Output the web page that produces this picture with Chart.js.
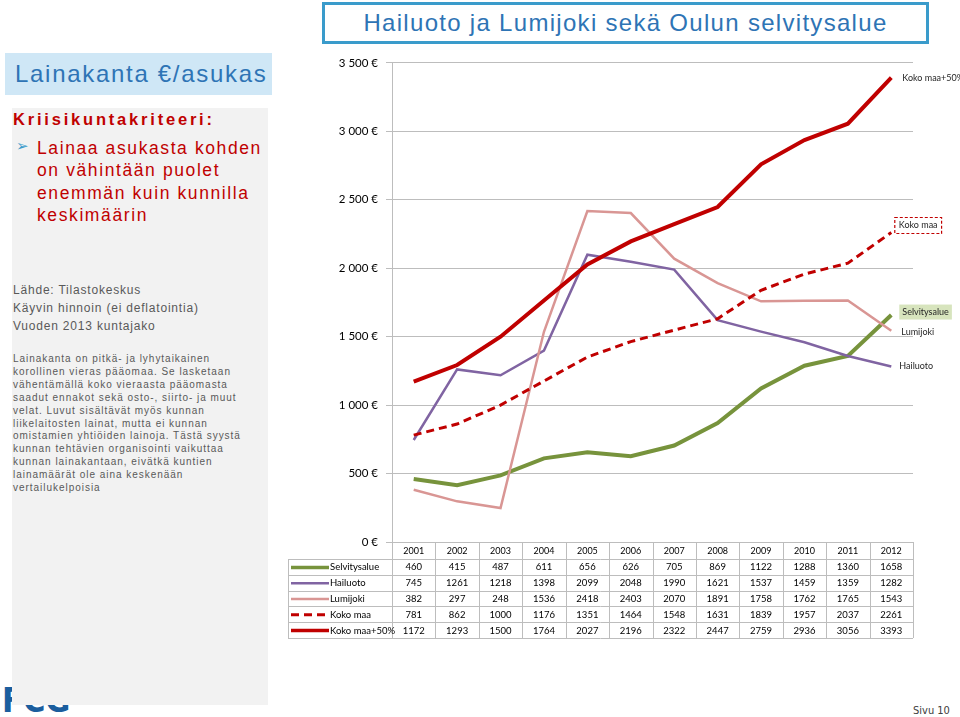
<!DOCTYPE html>
<html>
<head>
<meta charset="utf-8">
<script src="https://cdn.jsdelivr.net/npm/chart.js@4"></script>
<style>
  body { margin: 0; width: 960px; height: 717px; background: #fff; position: relative; overflow: hidden; font-family: "Liberation Sans", Arial, sans-serif; }
  .abs { position: absolute; }
  #title { left: 322px; top: 2px; width: 601px; height: 36px; border: 3px solid #3A9BCB; color: #2E74B5; font-size: 24px; letter-spacing: 1.3px; text-align: center; line-height: 36px; }
  #subTitle { left: 5px; top: 53px; width: 267px; height: 42px; background: #CFE7F6; color: #2E74B5; font-size: 24px; letter-spacing: 1.7px; line-height: 42px; padding-left: 10px; box-sizing: border-box; white-space: nowrap; }
  #logo { left: 2px; top: 680px; font-size: 34px; font-weight: bold; color: #1B5E9E; font-family: "DejaVu Sans Condensed", sans-serif; z-index: 0; }
  #panel { left: 12px; top: 108px; width: 256px; height: 597px; background: #F2F2F2; z-index: 1; }
  #krit { left: 13px; top: 110px; color: #C00000; font-weight: bold; font-size: 16.5px; letter-spacing: 2.8px; z-index: 2; }
  #bullet { left: 16px; top: 137px; color: #3A9BCB; font-size: 15px; z-index: 2; font-family: "DejaVu Sans", sans-serif; }
  #kritText { left: 37px; top: 137px; color: #C00000; font-size: 17.5px; letter-spacing: 1.6px; line-height: 22.4px; z-index: 2; white-space: nowrap; }
  #source { left: 13px; top: 281px; color: #595959; font-size: 12px; letter-spacing: 0.8px; line-height: 18px; z-index: 2; }
  #para { left: 13px; top: 353px; color: #595959; font-size: 10px; letter-spacing: 0.97px; line-height: 12.9px; z-index: 2; white-space: nowrap; }
  #page { left: 913px; top: 704px; color: #404040; font-size: 11px; font-family: "DejaVu Sans Condensed", sans-serif; }
  #chartCanvas { position: absolute; left: 285px; top: 48px; }
</style>
</head>
<body>
<div class="abs" id="title">Hailuoto ja Lumijoki sekä Oulun selvitysalue</div>
<div class="abs" id="subTitle">Lainakanta €/asukas</div>
<div class="abs" id="logo">FCG</div>
<div class="abs" id="panel"></div>
<div class="abs" id="krit">Kriisikuntakriteeri:</div>
<div class="abs" id="bullet">➢</div>
<div class="abs" id="kritText">Lainaa asukasta kohden<br>on vähintään puolet<br>enemmän kuin kunnilla<br>keskimäärin</div>
<div class="abs" id="source">Lähde: Tilastokeskus<br>Käyvin hinnoin (ei deflatointia)<br>Vuoden 2013 kuntajako</div>
<div class="abs" id="para">Lainakanta on pitkä- ja lyhytaikainen<br>korollinen vieras pääomaa. Se lasketaan<br>vähentämällä koko vieraasta pääomasta<br>saadut ennakot sekä osto-, siirto- ja muut<br>velat. Luvut sisältävät myös kunnan<br>liikelaitosten lainat, mutta ei kunnan<br>omistamien yhtiöiden lainoja. Tästä syystä<br>kunnan tehtävien organisointi vaikuttaa<br>kunnan lainakantaan, eivätkä kuntien<br>lainamäärät ole aina keskenään<br>vertailukelpoisia</div>
<div class="abs" id="page">Sivu 10</div>
<canvas id="chartCanvas" width="675" height="600"></canvas>

<script>
// Vuodet ja sarjat (€/asukas)
const years = ["2001","2002","2003","2004","2005","2006","2007","2008","2009","2010","2011","2012"];
const selvitysalue = [460, 415, 487, 611, 656, 626, 705, 869, 1122, 1288, 1360, 1658];
const hailuoto = [745, 1261, 1218, 1398, 2099, 2048, 1990, 1621, 1537, 1459, 1359, 1282];
const lumijoki = [382, 297, 248, 1536, 2418, 2403, 2070, 1891, 1758, 1762, 1765, 1543];
const kokoMaa = [781, 862, 1000, 1176, 1351, 1464, 1548, 1631, 1839, 1957, 2037, 2261];
const kokoMaa50 = [1172, 1293, 1500, 1764, 2027, 2196, 2322, 2447, 2759, 2936, 3056, 3393];
const yMax = 3500;
const yStep = 500;

const chartFont = "Lato, 'Open Sans', sans-serif";
const gridColor = "#BDBDBD";

// Sarjojen nimet loppupäähän
const endLabels = {
  id: "endLabels",
  afterDatasetsDraw(chart) {
    const ctx = chart.ctx;
    const xs = chart.scales.x, ys = chart.scales.y;
    const last = years.length - 1;
    const lx = xs.getPixelForValue(last);
    ctx.save();
    ctx.font = "9px " + chartFont;
    ctx.textBaseline = "middle";
    ctx.fillStyle = "#262626";

    // Koko maa+50%
    ctx.fillText("Koko maa+50%", lx + 11, ys.getPixelForValue(kokoMaa50[last]) + 1);

    // Koko maa (katkoviivalaatikko)
    let y = ys.getPixelForValue(kokoMaa[last]) - 7;
    let w = ctx.measureText("Koko maa").width + 8;
    ctx.strokeStyle = "#C00000";
    ctx.lineWidth = 1.2;
    ctx.setLineDash([3, 2]);
    ctx.strokeRect(lx + 3.5, y - 8, w, 16);
    ctx.setLineDash([]);
    ctx.fillText("Koko maa", lx + 7.5, y);

    // Selvitysalue (vihreä tausta)
    y = ys.getPixelForValue(selvitysalue[last]) - 3;
    w = ctx.measureText("Selvitysalue").width + 6;
    ctx.fillStyle = "#D7E4BD";
    ctx.fillRect(lx + 8, y - 7.5, w, 15);
    ctx.fillStyle = "#262626";
    ctx.fillText("Selvitysalue", lx + 11, y);

    ctx.fillText("Lumijoki", lx + 10, ys.getPixelForValue(lumijoki[last]) + 1);
    ctx.fillText("Hailuoto", lx + 8, ys.getPixelForValue(hailuoto[last]));
    ctx.restore();
  }
};

// Datataulukko kaavion alle
const dataTable = {
  id: "dataTable",
  afterDraw(chart) {
    const ctx = chart.ctx;
    const xs = chart.scales.x;
    const area = chart.chartArea;
    const top = area.bottom;
    const headH = 17;
    const rowH = 15.8;
    const left = 3;
    const right = area.right;
    const step = (area.right - area.left) / years.length;
    const sets = chart.data.datasets;
    const bottom = top + headH + rowH * sets.length;

    ctx.save();
    ctx.strokeStyle = gridColor;
    ctx.lineWidth = 1;
    ctx.beginPath();
    for (let r = 0; r <= sets.length; r++) {
      const y = Math.round(top + headH + r * rowH) + 0.5;
      ctx.moveTo(left, y);
      ctx.lineTo(right, y);
    }
    for (let i = 0; i <= years.length; i++) {
      const x = Math.round(area.left + i * step) + 0.5;
      ctx.moveTo(x, top);
      ctx.lineTo(x, bottom);
    }
    ctx.moveTo(left + 0.5, top + headH);
    ctx.lineTo(left + 0.5, bottom);
    ctx.stroke();

    ctx.textAlign = "center";
    ctx.textBaseline = "middle";
    ctx.fillStyle = "#000";
    ctx.font = "9px " + chartFont;
    years.forEach((yr, i) => {
      ctx.fillText(yr, xs.getPixelForValue(i), top + headH / 2 + 1);
    });

    sets.forEach((ds, r) => {
      const cy = top + headH + r * rowH + rowH / 2 + 0.5;
      // selitteen viiva
      ctx.strokeStyle = ds.borderColor;
      ctx.lineWidth = Math.min(ds.borderWidth, 3.5);
      ctx.setLineDash(ds.borderDash || []);
      ctx.beginPath();
      ctx.moveTo(left + 3, cy);
      ctx.lineTo(left + 41, cy);
      ctx.stroke();
      ctx.setLineDash([]);
      ctx.fillStyle = "#000";
      ctx.textAlign = "left";
      ctx.font = "9.5px " + chartFont;
      ctx.fillText(ds.label, left + 42, cy);
      ctx.textAlign = "center";
      ds.data.forEach((v, i) => {
        ctx.fillText(String(v), xs.getPixelForValue(i), cy);
      });
    });
    ctx.restore();
  }
};

const chart = new Chart(document.getElementById("chartCanvas"), {
  type: "line",
  data: {
    labels: years,
    datasets: [
      { label: "Selvitysalue", data: selvitysalue, borderColor: "#77933C", borderWidth: 4, order: 4 },
      { label: "Hailuoto", data: hailuoto, borderColor: "#8064A2", borderWidth: 2.5, order: 3 },
      { label: "Lumijoki", data: lumijoki, borderColor: "#D99694", borderWidth: 2.5, order: 2 },
      { label: "Koko maa", data: kokoMaa, borderColor: "#C00000", borderWidth: 3, borderDash: [8, 5], order: 1 },
      { label: "Koko maa+50%", data: kokoMaa50, borderColor: "#C00000", borderWidth: 4, order: 0 }
    ]
  },
  options: {
    responsive: false,
    animation: false,
    layout: { padding: { left: 0, top: 13, right: 47, bottom: 106 } },
    elements: {
      point: { radius: 0 },
      line: { tension: 0, fill: false, borderCapStyle: "butt" }
    },
    plugins: {
      legend: { display: false },
      tooltip: { enabled: false }
    },
    scales: {
      x: {
        display: false,
        offset: true
      },
      y: {
        min: 0,
        max: yMax,
        afterFit(scale) { scale.width = 107; },
        ticks: {
          stepSize: yStep,
          padding: 8,
          color: "#000",
          font: { family: chartFont, size: 11.5 },
          callback: v => (v >= 1000 ? Math.floor(v / 1000) + " " + String(v % 1000).padStart(3, "0") : v) + " €"
        },
        grid: { color: gridColor, tickLength: 6, lineWidth: 1 },
        border: { color: gridColor }
      }
    }
  },
  plugins: [endLabels, dataTable]
});
</script>
</body>
</html>
